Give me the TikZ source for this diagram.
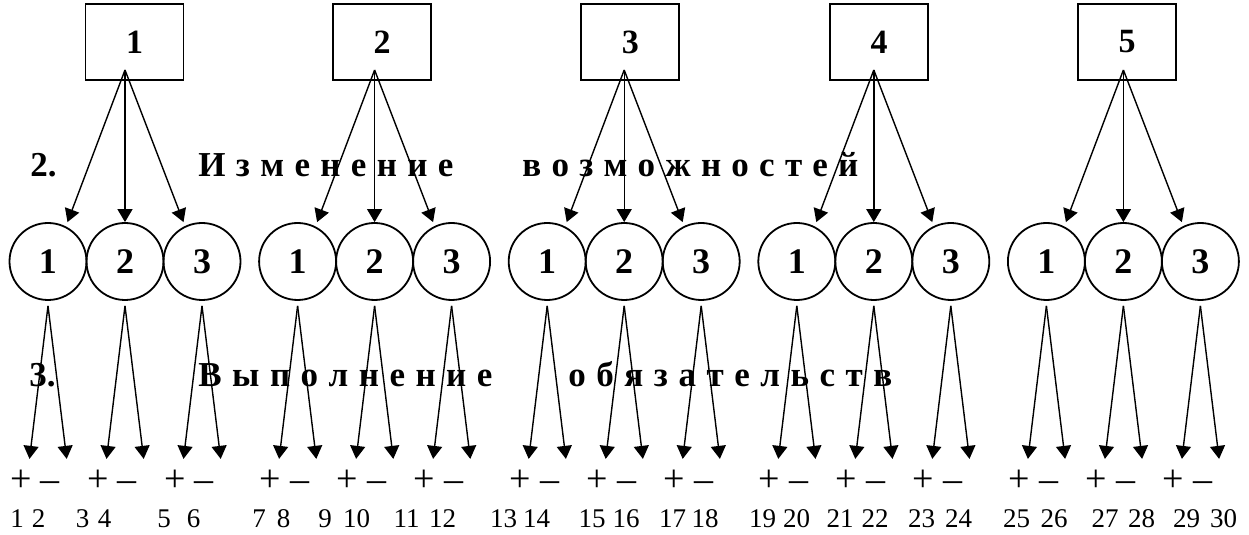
\documentclass[tikz,border=0pt]{standalone}
\usepackage{fontspec}
\setmainfont{Liberation Serif}[BoldFont={Liberation Serif Bold}]
\usetikzlibrary{arrows.meta,calc}

\begin{document}
\begin{tikzpicture}[
  x=0.5pt, y=0.5pt,
  blok/.style={draw=black, line width=0.9pt, minimum width=49pt, minimum height=38pt, inner sep=0pt, font=\fontsize{17pt}{18pt}\selectfont\bfseries},
  krug/.style={draw=black, line width=0.9pt, circle, minimum size=38.5pt, inner sep=0pt, font=\fontsize{18pt}{19pt}\selectfont\bfseries},
  strelka/.style={line width=0.7pt, -{Triangle[length=6.5pt,width=7.5pt]}},
  znak/.style={font=\fontsize{19pt}{21pt}\selectfont, inner sep=0pt},
  nomer/.style={font=\fontsize{13.5pt}{15pt}\selectfont, anchor=base, inner sep=0pt},
  zagl/.style={font=\fontsize{17.5pt}{19pt}\selectfont\bfseries, anchor=base west, inner sep=0pt}
]
\useasboundingbox (0,0) rectangle (1249,535);

% bloki, krugi, strelki
\foreach \g/\bx/\cx in {1/134.5/125, 2/382/374.6, 3/630.3/624.2, 4/879/873.8, 5/1127/1123.4} {
  \node[blok] (b\g) at (\bx,493) {\g};
  \coordinate (o\g) at (\cx,465);
  \foreach \k in {1,2,3} {
    \node[krug] (c\g\k) at ({\cx+(\k-2)*77},273.5) {\k};
    \coordinate (v\g\k) at ($(c\g\k.south)+(0,-5)$);
    \coordinate (p\g\k) at ($(c\g\k.south)+(-18.5,-158)$);
    \coordinate (m\g\k) at ($(c\g\k.south)+(18.7,-158)$);
    \draw[strelka] (v\g\k) -- (p\g\k);
    \draw[strelka] (v\g\k) -- (m\g\k);
    \node[znak] (z\g\k) at ($(c\g\k.south)+(-13,-180)$) {+ –};
  }
  \draw[strelka] (o\g) -- ($(c\g1.north)+(19.5,0)$);
  \draw[strelka] (o\g) -- (c\g2.north);
  \draw[strelka] (o\g) -- ($(c\g3.north)+(-18.5,0)$);
}

% zagolovki
\node[zagl] (r2) at (30,358) {2.};
\node[zagl] (izm) at (198,358) {\makebox[127.5pt][s]{И з м е н е н и е}};
\node[zagl] (voz) at (522,358) {\makebox[168pt][s]{в о з м о ж н о с т е й}};
\node[zagl] (r3) at (29,148) {3.};
\node[zagl] (vyp) at (198,148) {\makebox[147pt][s]{В ы п о л н е н и е}};
\node[zagl] (obz) at (568,148) {\makebox[162pt][s]{о б я з а т е л ь с т в}};

% nomera
\foreach \n/\x in {1/17, 2/38.5, 3/82.5, 4/104.5, 5/164, 6/193.5, 7/259, 8/283.5, 9/325, 10/356.5,
  11/406.5, 12/442.5, 13/503.5, 14/536.5, 15/592, 16/626, 17/672.5, 18/705, 19/762.5, 20/796.5,
  21/840, 22/875, 23/921.5, 24/958.5, 25/1016.5, 26/1054, 27/1105, 28/1141.5, 29/1186.5, 30/1223.5}
  \node[nomer] (n\n) at (\x,7) {\n};
\end{tikzpicture}
\end{document}
